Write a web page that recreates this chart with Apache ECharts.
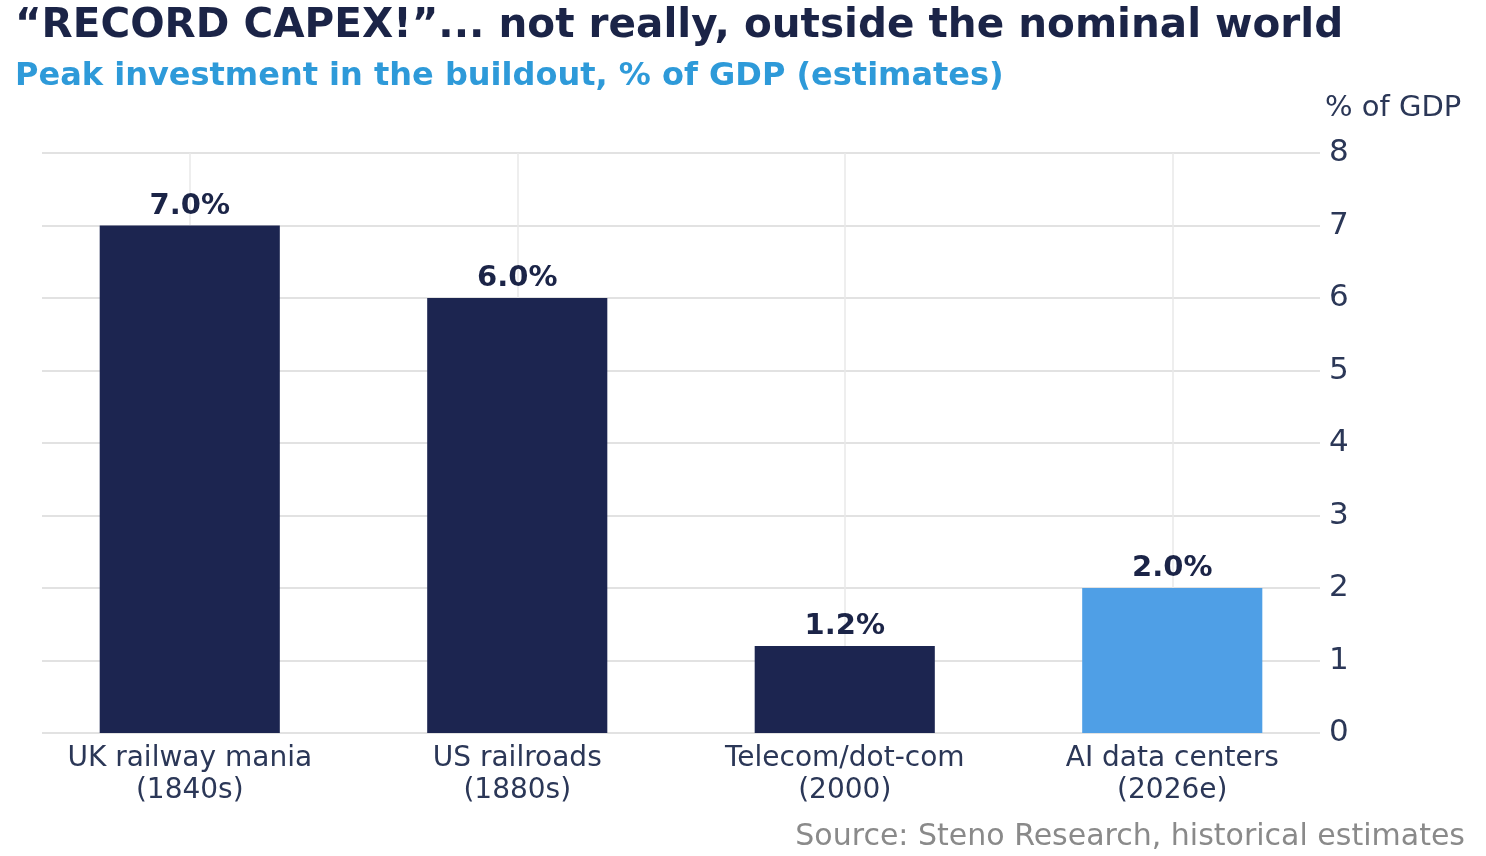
<!DOCTYPE html>
<html>
<head>
<meta charset="utf-8">
<script src="https://cdn.jsdelivr.net/npm/echarts@6/dist/echarts.min.js"></script>
<style>
  html, body { margin: 0; padding: 0; background: #fff; }
  #chart { width: 1486px; height: 856px; }
</style>
</head>
<body>
<div id="chart"></div>
<script>
// data
var categories = ['UK railway mania\n(1840s)', 'US railroads\n(1880s)', 'Telecom/dot-com\n(2000)', 'AI data centers\n(2026e)'];
var values = [7.0, 6.0, 1.2, 2.0];
var highlight = [false, false, false, true];
var yTicks = [0, 1, 2, 3, 4, 5, 6, 7, 8];

var navy = '#1c2550';
var lightBlue = '#4f9fe6';
var textCol = '#2b3757';
var font = 'DejaVu Sans';

var chart = echarts.init(document.getElementById('chart'));

var option = {
  backgroundColor: '#ffffff',
  animation: false,
  title: [
    {
      text: '\u201cRECORD CAPEX!\u201d... not really, outside the nominal world',
      left: 10, top: 1,
      textStyle: { fontFamily: font, fontWeight: 'bold', fontSize: 40.5, color: '#1b2447' }
    },
    {
      text: 'Peak investment in the buildout, % of GDP (estimates)',
      left: 10, top: 56,
      textStyle: { fontFamily: font, fontWeight: 'bold', fontSize: 32, color: '#2e9ad9' }
    },
    {
      // y axis unit
      text: '% of GDP',
      left: 1320, top: 89,
      textStyle: { fontFamily: font, fontWeight: 'normal', fontSize: 29, color: textCol }
    },
    {
      text: 'Source: Steno Research, historical estimates',
      right: 16, top: 817,
      textStyle: { fontFamily: font, fontWeight: 'normal', fontSize: 30, color: '#8a8a8a' }
    }
  ],
  grid: [
    // bars + categories
    { left: 26, right: 150, top: 153, bottom: 123 },
    // horizontal gridlines + value labels
    { left: 42, right: 166, top: 153, bottom: 123 }
  ],
  xAxis: [
    {
      type: 'category',
      gridIndex: 0,
      data: categories,
      axisLine: { show: false },
      axisTick: { show: false },
      splitLine: { show: false },
      axisLabel: {
        interval: 0,
        margin: 10,
        fontFamily: font,
        fontSize: 28,
        lineHeight: 32,
        color: textCol
      }
    },
    {
      type: 'value',
      gridIndex: 1,
      min: 0,
      max: 1,
      show: false
    }
  ],
  yAxis: [
    {
      type: 'value',
      gridIndex: 0,
      min: yTicks[0],
      max: yTicks[yTicks.length - 1],
      show: false
    },
    {
      type: 'value',
      gridIndex: 1,
      position: 'right',
      min: yTicks[0],
      max: yTicks[yTicks.length - 1],
      interval: 1,
      axisLine: { show: false },
      axisTick: { show: false },
      splitLine: { show: true, lineStyle: { color: '#e2e2e2', width: 2 } },
      axisLabel: {
        margin: 9,
        fontFamily: font,
        fontSize: 31,
        color: textCol
      }
    }
  ],
  series: [
    {
      // vertical gridlines through the category centres
      type: 'line',
      xAxisIndex: 0,
      yAxisIndex: 0,
      z: 1,
      data: [],
      silent: true,
      markLine: {
        silent: true,
        z: 1,
        symbol: 'none',
        label: { show: false },
        lineStyle: { color: '#e8e8e8', type: 'solid', width: 1.5 },
        data: categories.map(function (c) { return { xAxis: c }; })
      }
    },
    {
      type: 'bar',
      xAxisIndex: 0,
      yAxisIndex: 0,
      z: 3,
      barWidth: '55%',
      data: values.map(function (v, i) {
        return { value: v, itemStyle: { color: highlight[i] ? lightBlue : navy } };
      }),
      label: {
        show: true,
        position: 'top',
        distance: 5,
        fontFamily: font,
        fontWeight: 'bold',
        fontSize: 29,
        color: '#1b2447',
        formatter: function (p) { return p.value.toFixed(1) + '%'; }
      }
    }
  ]
};

chart.setOption(option);
</script>
</body>
</html>
